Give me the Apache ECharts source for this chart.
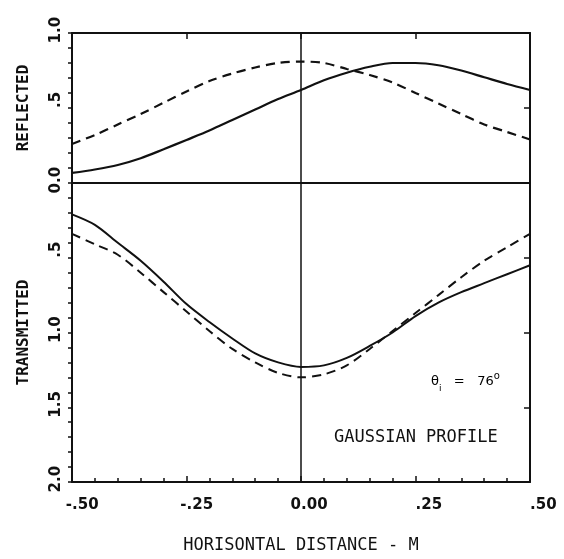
<!DOCTYPE html>
<html>
<head>
<meta charset="utf-8">
<script src="https://cdn.jsdelivr.net/npm/echarts@6/dist/echarts.min.js"></script>
<style>
  html, body { margin: 0; padding: 0; background: #fff; }
  #chart { width: 564px; height: 559px; }
</style>
</head>
<body>
<div id="chart"></div>
<script>
// horizontal distance (m)
var xs = [-0.50, -0.45, -0.40, -0.35, -0.30, -0.25, -0.20, -0.15, -0.10, -0.05, 0.00,
          0.05, 0.10, 0.15, 0.20, 0.25, 0.30, 0.35, 0.40, 0.45, 0.50];

// reflected (top panel)
var reflSolid = [0.067, 0.09, 0.12, 0.165, 0.225, 0.287, 0.35, 0.42, 0.49, 0.56, 0.62,
                 0.685, 0.735, 0.775, 0.80, 0.80, 0.785, 0.75, 0.705, 0.66, 0.62];
var reflDashed = [0.26, 0.32, 0.39, 0.46, 0.535, 0.61, 0.68, 0.73, 0.77, 0.80, 0.81,
                  0.80, 0.76, 0.72, 0.67, 0.60, 0.53, 0.46, 0.39, 0.34, 0.29];

// transmitted (bottom panel, axis runs downward)
var transSolid = [0.21, 0.28, 0.40, 0.52, 0.66, 0.81, 0.93, 1.04, 1.14, 1.20, 1.23,
                  1.22, 1.17, 1.09, 1.00, 0.89, 0.80, 0.73, 0.67, 0.61, 0.55];
var transDashed = [0.34, 0.41, 0.48, 0.60, 0.73, 0.86, 0.99, 1.11, 1.20, 1.27, 1.30,
                   1.28, 1.22, 1.11, 0.99, 0.87, 0.75, 0.63, 0.52, 0.43, 0.34];

// tick labels
var xTicks = [-0.5, -0.25, 0, 0.25, 0.5];
var xTickLabels = ['-.50', '-.25', '0.00', '.25', '.50'];
var reflTicks = [0, 0.5, 1];
var reflTickLabels = ['0.0', '.5', '1.0'];
var transTicks = [0, 0.5, 1, 1.5, 2];
var transTickLabels = ['', '.5', '1.0', '1.5', '2.0'];

var INK = '#111';
var labelFont = '"DejaVu Sans", sans-serif';
var monoFont = '"DejaVu Sans Mono", monospace';

function pairs(arr) {
	return xs.map(function (x, i) { return [x, arr[i]]; });
}

// labels are drawn in two halves so the decimal point sits on the tick
// part 0 = before the point, part 1 = the point and after
function tickPart(ticks, labels, part) {
	return function (v) {
		for (var i = 0; i < ticks.length; i++) {
			if (Math.abs(ticks[i] - v) < 1e-6) {
				var s = labels[i];
				var k = s.indexOf('.');
				if (k < 0) return part ? '' : s;
				return part ? s.slice(k) : s.slice(0, k);
			}
		}
		return '';
	};
}

var labelText = { fontFamily: labelFont, fontSize: 15, fontWeight: 'bold', color: INK };
var boxLine = { show: true, onZero: false, lineStyle: { color: INK, width: 2 } };
var tickStyle = { color: INK, width: 1.5 };
var off = { show: false };

var chart = echarts.init(document.getElementById('chart'));

var option = {
	backgroundColor: '#fff',
	animation: false,
	grid: [
		{ left: 72, right: 34, top: 33, height: 150 },
		{ left: 72, right: 34, top: 183, height: 305 }
	],
	xAxis: [
		{ // divider between panels
			gridIndex: 0, type: 'value', min: -0.5, max: 0.5, interval: 0.25, position: 'bottom',
			axisLine: boxLine, axisTick: off, axisLabel: off, splitLine: off
		},
		{ // top frame
			gridIndex: 0, type: 'value', min: -0.5, max: 0.5, interval: 0.25, position: 'top',
			axisLine: boxLine,
			axisTick: { show: true, inside: true, length: 6, lineStyle: tickStyle },
			axisLabel: off, splitLine: off
		},
		{ // bottom axis
			gridIndex: 1, type: 'value', min: -0.5, max: 0.5, interval: 0.25, position: 'bottom',
			axisLine: boxLine,
			axisTick: { show: true, inside: true, length: 6, lineStyle: tickStyle },
			minorTick: { show: true, splitNumber: 5, length: 4, lineStyle: tickStyle },
			axisLabel: Object.assign({ margin: 16, align: 'left', formatter: tickPart(xTicks, xTickLabels, 1) }, labelText),
			splitLine: off,
			name: 'HORISONTAL DISTANCE - M', nameLocation: 'middle', nameGap: 55,
			nameTextStyle: { fontFamily: monoFont, fontSize: 17, color: INK }
		},
		{ // bottom axis, left half of the labels
			gridIndex: 1, type: 'value', min: -0.5, max: 0.5, interval: 0.25, position: 'bottom',
			axisLine: off, axisTick: off, splitLine: off,
			axisLabel: Object.assign({ margin: 16, align: 'right', formatter: tickPart(xTicks, xTickLabels, 0) }, labelText)
		}
	],
	yAxis: [
		{ // REFLECTED
			gridIndex: 0, type: 'value', min: 0, max: 1, interval: 0.5, position: 'left',
			axisLine: boxLine,
			axisTick: { show: true, inside: false, length: 4, lineStyle: tickStyle },
			minorTick: { show: true, splitNumber: 5, length: 4, lineStyle: tickStyle },
			axisLabel: Object.assign({ rotate: 90, margin: 8, align: 'left', formatter: tickPart(reflTicks, reflTickLabels, 1) }, labelText),
			splitLine: off,
			name: 'REFLECTED', nameLocation: 'middle', nameGap: 40, nameRotate: 90,
			nameTextStyle: { fontFamily: monoFont, fontSize: 16, fontWeight: 'bold', color: INK }
		},
		{
			gridIndex: 0, type: 'value', min: 0, max: 1, interval: 0.5, position: 'right',
			axisLine: boxLine,
			axisTick: { show: true, inside: true, length: 6, lineStyle: tickStyle },
			axisLabel: off, splitLine: off
		},
		{ // TRANSMITTED
			gridIndex: 1, type: 'value', min: 0, max: 2, interval: 0.5, inverse: true, position: 'left',
			axisLine: boxLine,
			axisTick: { show: true, inside: false, length: 4, lineStyle: tickStyle },
			minorTick: { show: true, splitNumber: 5, length: 4, lineStyle: tickStyle },
			axisLabel: Object.assign({ rotate: 90, margin: 8, align: 'left', formatter: tickPart(transTicks, transTickLabels, 1) }, labelText),
			splitLine: off,
			name: 'TRANSMITTED', nameLocation: 'middle', nameGap: 40, nameRotate: 90,
			nameTextStyle: { fontFamily: monoFont, fontSize: 16, fontWeight: 'bold', color: INK }
		},
		{
			gridIndex: 1, type: 'value', min: 0, max: 2, interval: 0.5, inverse: true, position: 'right',
			axisLine: boxLine,
			axisTick: { show: true, inside: true, length: 6, lineStyle: tickStyle },
			axisLabel: off, splitLine: off
		},
		{ // left halves of the REFLECTED labels
			gridIndex: 0, type: 'value', min: 0, max: 1, interval: 0.5, position: 'left',
			axisLine: off, axisTick: off, splitLine: off,
			axisLabel: Object.assign({ rotate: 90, margin: 8, align: 'right', formatter: tickPart(reflTicks, reflTickLabels, 0) }, labelText)
		},
		{ // left halves of the TRANSMITTED labels
			gridIndex: 1, type: 'value', min: 0, max: 2, interval: 0.5, inverse: true, position: 'left',
			axisLine: off, axisTick: off, splitLine: off,
			axisLabel: Object.assign({ rotate: 90, margin: 8, align: 'right', formatter: tickPart(transTicks, transTickLabels, 0) }, labelText)
		}
	],
	series: [
		{
			name: 'reflected', type: 'line', xAxisIndex: 0, yAxisIndex: 0,
			data: pairs(reflSolid), smooth: 0.3, showSymbol: false,
			lineStyle: { color: INK, width: 2.2 },
			markLine: {
				silent: true, symbol: 'none', label: off,
				lineStyle: { color: INK, width: 1.5, type: 'solid' },
				data: [{ xAxis: 0 }]
			}
		},
		{
			name: 'reflected dashed', type: 'line', xAxisIndex: 0, yAxisIndex: 0,
			data: pairs(reflDashed), smooth: 0.3, showSymbol: false,
			lineStyle: { color: INK, width: 2.2, type: [9, 6] }
		},
		{
			name: 'transmitted', type: 'line', xAxisIndex: 2, yAxisIndex: 2,
			data: pairs(transSolid), smooth: 0.3, showSymbol: false,
			lineStyle: { color: INK, width: 2 },
			markLine: {
				silent: true, symbol: 'none', label: off,
				lineStyle: { color: INK, width: 1.5, type: 'solid' },
				data: [{ xAxis: 0 }]
			}
		},
		{
			name: 'transmitted dashed', type: 'line', xAxisIndex: 2, yAxisIndex: 2,
			data: pairs(transDashed), smooth: 0.3, showSymbol: false,
			lineStyle: { color: INK, width: 2, type: [9, 6] }
		}
	],
	graphic: [
		{
			type: 'text', left: 431, top: 371,
			style: {
				text: '{t|θ}{s|i}{t|   =   76}{d|o}',
				rich: {
					t: { fontFamily: labelFont, fontSize: 13, color: INK, verticalAlign: 'middle', lineHeight: 22 },
					s: { fontFamily: labelFont, fontSize: 9, color: INK, verticalAlign: 'bottom', lineHeight: 22 },
					d: { fontFamily: labelFont, fontSize: 10, color: INK, verticalAlign: 'top', lineHeight: 22 }
				}
			}
		},
		{
			type: 'text', left: 334, top: 429,
			style: { text: 'GAUSSIAN PROFILE', font: '17px ' + monoFont, fill: INK }
		}
	]
};

chart.setOption(option);
</script>
</body>
</html>
